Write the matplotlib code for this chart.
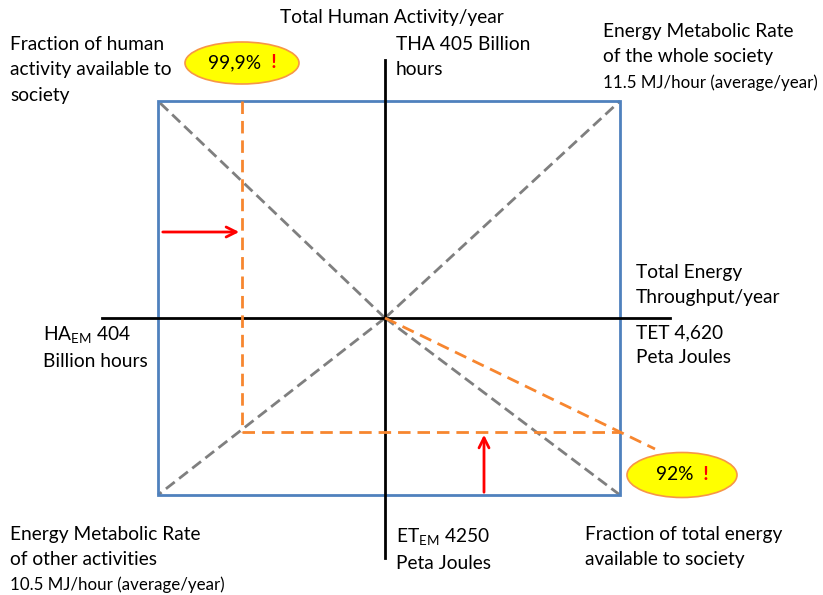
import matplotlib
matplotlib.use("Agg")
import matplotlib.pyplot as plt
from matplotlib.patches import Ellipse, Rectangle

plt.rcParams["font.family"] = ["Lato", "DejaVu Sans"]
plt.rcParams["mathtext.fontset"] = "custom"
plt.rcParams["mathtext.rm"] = "Lato"
plt.rcParams["mathtext.default"] = "regular"

# values shown on the diagram
tha_hours = "405"
ha_em_hours = "404"
tet_pj = "4,620"
et_em_pj = "4250"
emr_society = "11.5"
emr_other = "10.5"
human_fraction = "99,9%"
energy_fraction = "92%"

BLUE = "#4F81BD"
ORANGE = "#F7862F"
GRAY = "#7F7F7F"
RED = "#FF0000"

# layout in pixels (origin top-left)
W, H = 823, 595
cx, cy = 385, 318
left, right, top, bottom = 158, 620, 101, 495
orange_x, orange_y = 242, 432

fig = plt.figure(figsize=(W / 100, H / 100), dpi=100)
ax = fig.add_axes([0, 0, 1, 1])
ax.set_xlim(0, W)
ax.set_ylim(H, 0)
ax.axis("off")

# main axes
ax.plot([102, 670], [cy, cy], color="black", lw=2, zorder=3)
ax.plot([cx, cx], [60, 558], color="black", lw=2, zorder=3)

# box
ax.add_patch(Rectangle((left, top), right - left, bottom - top, fill=False,
                       edgecolor=BLUE, lw=2, zorder=2))

# grey lines from the centre to each corner
for corner in [(left, top), (right, top), (left, bottom), (right, bottom)]:
    ax.plot([cx, corner[0]], [cy, corner[1]], color=GRAY, lw=2,
            ls=(0, (4, 2)), zorder=1)

# orange construction lines
dash = (0, (4.5, 2.5))
ax.plot([orange_x, orange_x], [top, orange_y], color=ORANGE, lw=2, ls=dash, zorder=4)
ax.plot([orange_x, right], [orange_y, orange_y], color=ORANGE, lw=2, ls=dash, zorder=4)
slope = (orange_y - cy) / (right - cx)
ax.plot([cx, 655], [cy, cy + slope * (655 - cx)], color=ORANGE, lw=2, ls=dash, zorder=4)

# red arrows
ax.annotate("", xy=(orange_x, 232), xytext=(left + 2, 232),
            arrowprops=dict(arrowstyle="->", color=RED, lw=2, mutation_scale=18), zorder=5)
ax.annotate("", xy=(484, orange_y), xytext=(484, bottom),
            arrowprops=dict(arrowstyle="->", color=RED, lw=2, mutation_scale=18), zorder=5)

fs = 13.8
fs_small = 12.2
ls = 1.6


# yellow callouts
def callout(x, y, w, h, value):
    ax.add_patch(Ellipse((x, y), w, h, facecolor="#FFFF00", edgecolor="#F79646",
                         lw=1.2, zorder=6))
    t = ax.text(x - 7, y, value, ha="center", va="center", fontsize=fs, zorder=7)
    ax.annotate("  !", xy=(1, 0.5), xycoords=t, ha="left", va="center",
                fontsize=fs, color=RED, fontweight="bold", zorder=7)


callout(242, 63, 114, 42, human_fraction)
callout(682, 475, 110, 45, energy_fraction)

ax.text(10, 36, "Fraction of human\nactivity available to\nsociety",
        fontsize=fs, va="top", linespacing=ls)
ax.text(280, 9, "Total Human Activity/year", fontsize=fs, va="top")
ax.text(396, 36, "THA " + tha_hours + " Billion\nhours",
        fontsize=fs, va="top", linespacing=ls)
ax.text(603, 23, "Energy Metabolic Rate\nof the whole society",
        fontsize=fs, va="top", linespacing=ls)
ax.text(603, 74, emr_society + " MJ/hour (average/year)", fontsize=fs_small, va="top")

ax.text(636, 264, "Total Energy\nThroughput/year", fontsize=fs, va="top", linespacing=ls)
ax.text(636, 324, "TET " + tet_pj + "\nPeta Joules", fontsize=fs, va="top", linespacing=ls)
ax.text(43, 324, "HA$_{EM}$ " + ha_em_hours + "\nBillion hours",
        fontsize=fs, va="top", linespacing=ls)

ax.text(10, 526, "Energy Metabolic Rate\nof other activities",
        fontsize=fs, va="top", linespacing=ls)
ax.text(10, 576, emr_other + " MJ/hour (average/year)", fontsize=fs_small, va="top")
ax.text(396, 526, "ET$_{EM}$ " + et_em_pj + "\nPeta Joules",
        fontsize=fs, va="top", linespacing=ls)
ax.text(585, 526, "Fraction of total energy\navailable to society",
        fontsize=fs, va="top", linespacing=ls)

fig.savefig("out.png", dpi=100, facecolor="white")
